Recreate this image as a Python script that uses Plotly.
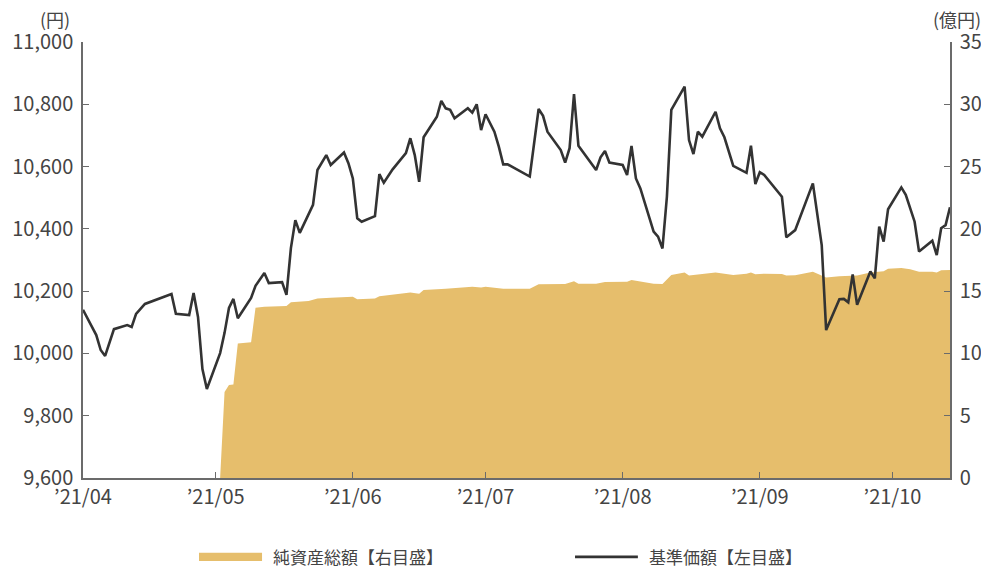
import plotly.graph_objects as go

# 基準価額 (left axis, 円)
nav_dates = [
    "2021-04-01", "2021-04-04", "2021-04-05", "2021-04-06", "2021-04-08", "2021-04-11",
    "2021-04-12", "2021-04-13", "2021-04-15", "2021-04-21", "2021-04-22", "2021-04-25",
    "2021-04-26", "2021-04-27", "2021-04-28", "2021-04-29", "2021-05-02", "2021-05-03",
    "2021-05-04", "2021-05-05", "2021-05-06", "2021-05-09", "2021-05-10", "2021-05-12",
    "2021-05-13", "2021-05-16", "2021-05-17", "2021-05-18", "2021-05-19", "2021-05-20",
    "2021-05-23", "2021-05-24", "2021-05-26", "2021-05-27", "2021-05-30", "2021-05-31",
    "2021-06-01", "2021-06-02", "2021-06-03", "2021-06-06", "2021-06-07", "2021-06-08",
    "2021-06-10", "2021-06-13", "2021-06-14", "2021-06-15", "2021-06-16", "2021-06-17",
    "2021-06-20", "2021-06-21", "2021-06-22", "2021-06-23", "2021-06-24", "2021-06-27",
    "2021-06-28", "2021-06-29", "2021-06-30", "2021-07-01", "2021-07-03", "2021-07-04",
    "2021-07-05", "2021-07-06", "2021-07-11", "2021-07-13", "2021-07-14", "2021-07-15",
    "2021-07-18", "2021-07-19", "2021-07-20", "2021-07-21", "2021-07-22", "2021-07-26",
    "2021-07-27", "2021-07-28", "2021-07-29", "2021-08-01", "2021-08-02", "2021-08-03",
    "2021-08-04", "2021-08-05", "2021-08-08", "2021-08-09", "2021-08-10", "2021-08-11",
    "2021-08-12", "2021-08-15", "2021-08-16", "2021-08-17", "2021-08-18", "2021-08-19",
    "2021-08-22", "2021-08-23", "2021-08-24", "2021-08-26", "2021-08-29", "2021-08-30",
    "2021-08-31", "2021-09-01", "2021-09-02", "2021-09-06", "2021-09-07", "2021-09-09",
    "2021-09-13", "2021-09-15", "2021-09-16", "2021-09-19", "2021-09-20", "2021-09-21",
    "2021-09-22", "2021-09-23", "2021-09-26", "2021-09-27", "2021-09-28", "2021-09-29",
    "2021-09-30", "2021-10-03", "2021-10-04", "2021-10-05", "2021-10-06", "2021-10-07",
    "2021-10-10", "2021-10-11", "2021-10-12", "2021-10-13", "2021-10-14",
]
nav_values = [
    10140, 10059, 10011, 9992, 10078, 10091,
    10085, 10127, 10159, 10191, 10127, 10123,
    10194, 10117, 9950, 9886, 10001, 10066,
    10146, 10175, 10113, 10178, 10217, 10258,
    10226, 10229, 10188, 10338, 10428, 10387,
    10477, 10589, 10637, 10605, 10645, 10611,
    10562, 10434, 10423, 10441, 10576, 10548,
    10591, 10643, 10691, 10637, 10551, 10694,
    10760, 10811, 10787, 10782, 10755, 10787,
    10773, 10800, 10717, 10768, 10712, 10664,
    10607, 10607, 10568, 10785, 10763, 10712,
    10653, 10613, 10659, 10833, 10667, 10589,
    10630, 10650, 10613, 10605, 10573, 10666,
    10562, 10530, 10391, 10375, 10337, 10503,
    10782, 10857, 10685, 10640, 10712, 10696,
    10776, 10723, 10694, 10602, 10580, 10667,
    10544, 10582, 10573, 10503, 10373, 10396,
    10546, 10348, 10075, 10174, 10175, 10164,
    10254, 10156, 10263, 10241, 10407, 10359,
    10463, 10533, 10509, 10466, 10423, 10327,
    10362, 10316, 10402, 10412, 10469,
]

# 純資産総額 (right axis, 億円)
na_dates = [
    "2021-05-02", "2021-05-03", "2021-05-04", "2021-05-05", "2021-05-06", "2021-05-09",
    "2021-05-10", "2021-05-12", "2021-05-17", "2021-05-18", "2021-05-22", "2021-05-24",
    "2021-05-27", "2021-06-01", "2021-06-02", "2021-06-06", "2021-06-07", "2021-06-14",
    "2021-06-16", "2021-06-17", "2021-06-22", "2021-06-28", "2021-06-30", "2021-07-01",
    "2021-07-05", "2021-07-11", "2021-07-13", "2021-07-19", "2021-07-21", "2021-07-22",
    "2021-07-26", "2021-07-28", "2021-08-02", "2021-08-03", "2021-08-08", "2021-08-10",
    "2021-08-12", "2021-08-15", "2021-08-16", "2021-08-18", "2021-08-22", "2021-08-26",
    "2021-08-29", "2021-08-30", "2021-08-31", "2021-09-02", "2021-09-06", "2021-09-07",
    "2021-09-09", "2021-09-13", "2021-09-16", "2021-09-19", "2021-09-23", "2021-09-26",
    "2021-09-29", "2021-09-30", "2021-10-03", "2021-10-05", "2021-10-07", "2021-10-10",
    "2021-10-11", "2021-10-12", "2021-10-14",
]
na_values = [
    0, 6.9, 7.47, 7.5, 10.8, 10.9,
    13.67, 13.75, 13.8, 14.1, 14.2, 14.4,
    14.47, 14.55, 14.35, 14.4, 14.6, 14.9,
    14.8, 15.1, 15.2, 15.35, 15.3, 15.35,
    15.2, 15.2, 15.55, 15.57, 15.8, 15.6,
    15.6, 15.73, 15.76, 15.9, 15.6, 15.57,
    16.3, 16.5, 16.25, 16.35, 16.5, 16.3,
    16.4, 16.5, 16.35, 16.4, 16.38, 16.25,
    16.27, 16.56, 16.1, 16.2, 16.25, 16.5,
    16.6, 16.8, 16.86, 16.75, 16.56, 16.56,
    16.5, 16.67, 16.7,
]

x_tick_vals = ["2021-04-01", "2021-05-01", "2021-06-01", "2021-07-01",
               "2021-08-01", "2021-09-01", "2021-10-01"]
x_tick_text = ["’21/04", "’21/05", "’21/06", "’21/07", "’21/08", "’21/09", "’21/10"]
left_ticks = [9600, 9800, 10000, 10200, 10400, 10600, 10800, 11000]
right_ticks = [0, 5, 10, 15, 20, 25, 30, 35]

legend_area = "純資産総額【右目盛】"
legend_line = "基準価額【左目盛】"

GOLD = "#E6BE6C"
LINE = "#333333"
AXIS = "#6b6b6b"
TEXT = "#444444"
FONT = "Noto Sans CJK JP, Noto Sans, sans-serif"

fig = go.Figure()
fig.add_trace(go.Scatter(
    x=na_dates, y=na_values, yaxis="y", mode="lines",
    line=dict(width=0, color=GOLD), fill="tozeroy", fillcolor=GOLD,
    name=legend_area, hoverinfo="skip", showlegend=False,
))
fig.add_trace(go.Scatter(
    x=nav_dates, y=nav_values, yaxis="y2", mode="lines",
    line=dict(width=2.6, color=LINE), name=legend_line, showlegend=False,
))

axis_common = dict(showgrid=False, zeroline=False, showline=True, linecolor=AXIS,
                   linewidth=1.5, ticks="inside", ticklen=6, tickcolor=AXIS,
                   tickwidth=1.3, automargin=False,
                   tickfont=dict(family=FONT, size=20, color=TEXT))

fig.update_layout(
    width=981, height=572,
    margin=dict(l=83, r=31, t=42, b=94),
    paper_bgcolor="white", plot_bgcolor="white",
    showlegend=False,
    xaxis=dict(type="date", range=["2021-04-01", "2021-10-14"],
               tickmode="array", tickvals=x_tick_vals, ticktext=x_tick_text,
               **axis_common),
    yaxis=dict(side="right", range=[0, 35], tickmode="array", tickvals=right_ticks,
               ticklabelstandoff=4, **axis_common),
    yaxis2=dict(side="left", overlaying="y", range=[9600, 11000], tickmode="array",
                tickvals=left_ticks, tickformat=",", ticklabelstandoff=4, **axis_common),
)

# unit labels
fig.add_annotation(text="(円)", xref="paper", yref="paper", x=-0.013, y=1.053,
                   xanchor="right", yanchor="middle", showarrow=False,
                   font=dict(family=FONT, size=18, color=TEXT))
fig.add_annotation(text="(億円)", xref="paper", yref="paper", x=0.978, y=1.053,
                   xanchor="left", yanchor="middle", showarrow=False,
                   font=dict(family=FONT, size=18, color=TEXT))

# manual legend
leg_y = -0.181
fig.add_shape(type="rect", xref="paper", yref="paper", x0=0.1338, x1=0.2065,
              y0=leg_y - 0.0095, y1=leg_y + 0.0095, fillcolor=GOLD, line=dict(width=0))
fig.add_shape(type="line", xref="paper", yref="paper", x0=0.5675, x1=0.640,
              y0=leg_y, y1=leg_y, line=dict(color=LINE, width=2.6))
fig.add_annotation(text=legend_area, xref="paper", yref="paper", x=0.2168, y=leg_y,
                   xanchor="left", yanchor="middle", showarrow=False,
                   font=dict(family=FONT, size=17, color=TEXT))
fig.add_annotation(text=legend_line, xref="paper", yref="paper", x=0.6505, y=leg_y,
                   xanchor="left", yanchor="middle", showarrow=False,
                   font=dict(family=FONT, size=17, color=TEXT))

fig.write_html(
    "out.html",
    config={"displayModeBar": False},
    post_script="document.body.style.margin='0';document.body.style.overflow='hidden';",
)
